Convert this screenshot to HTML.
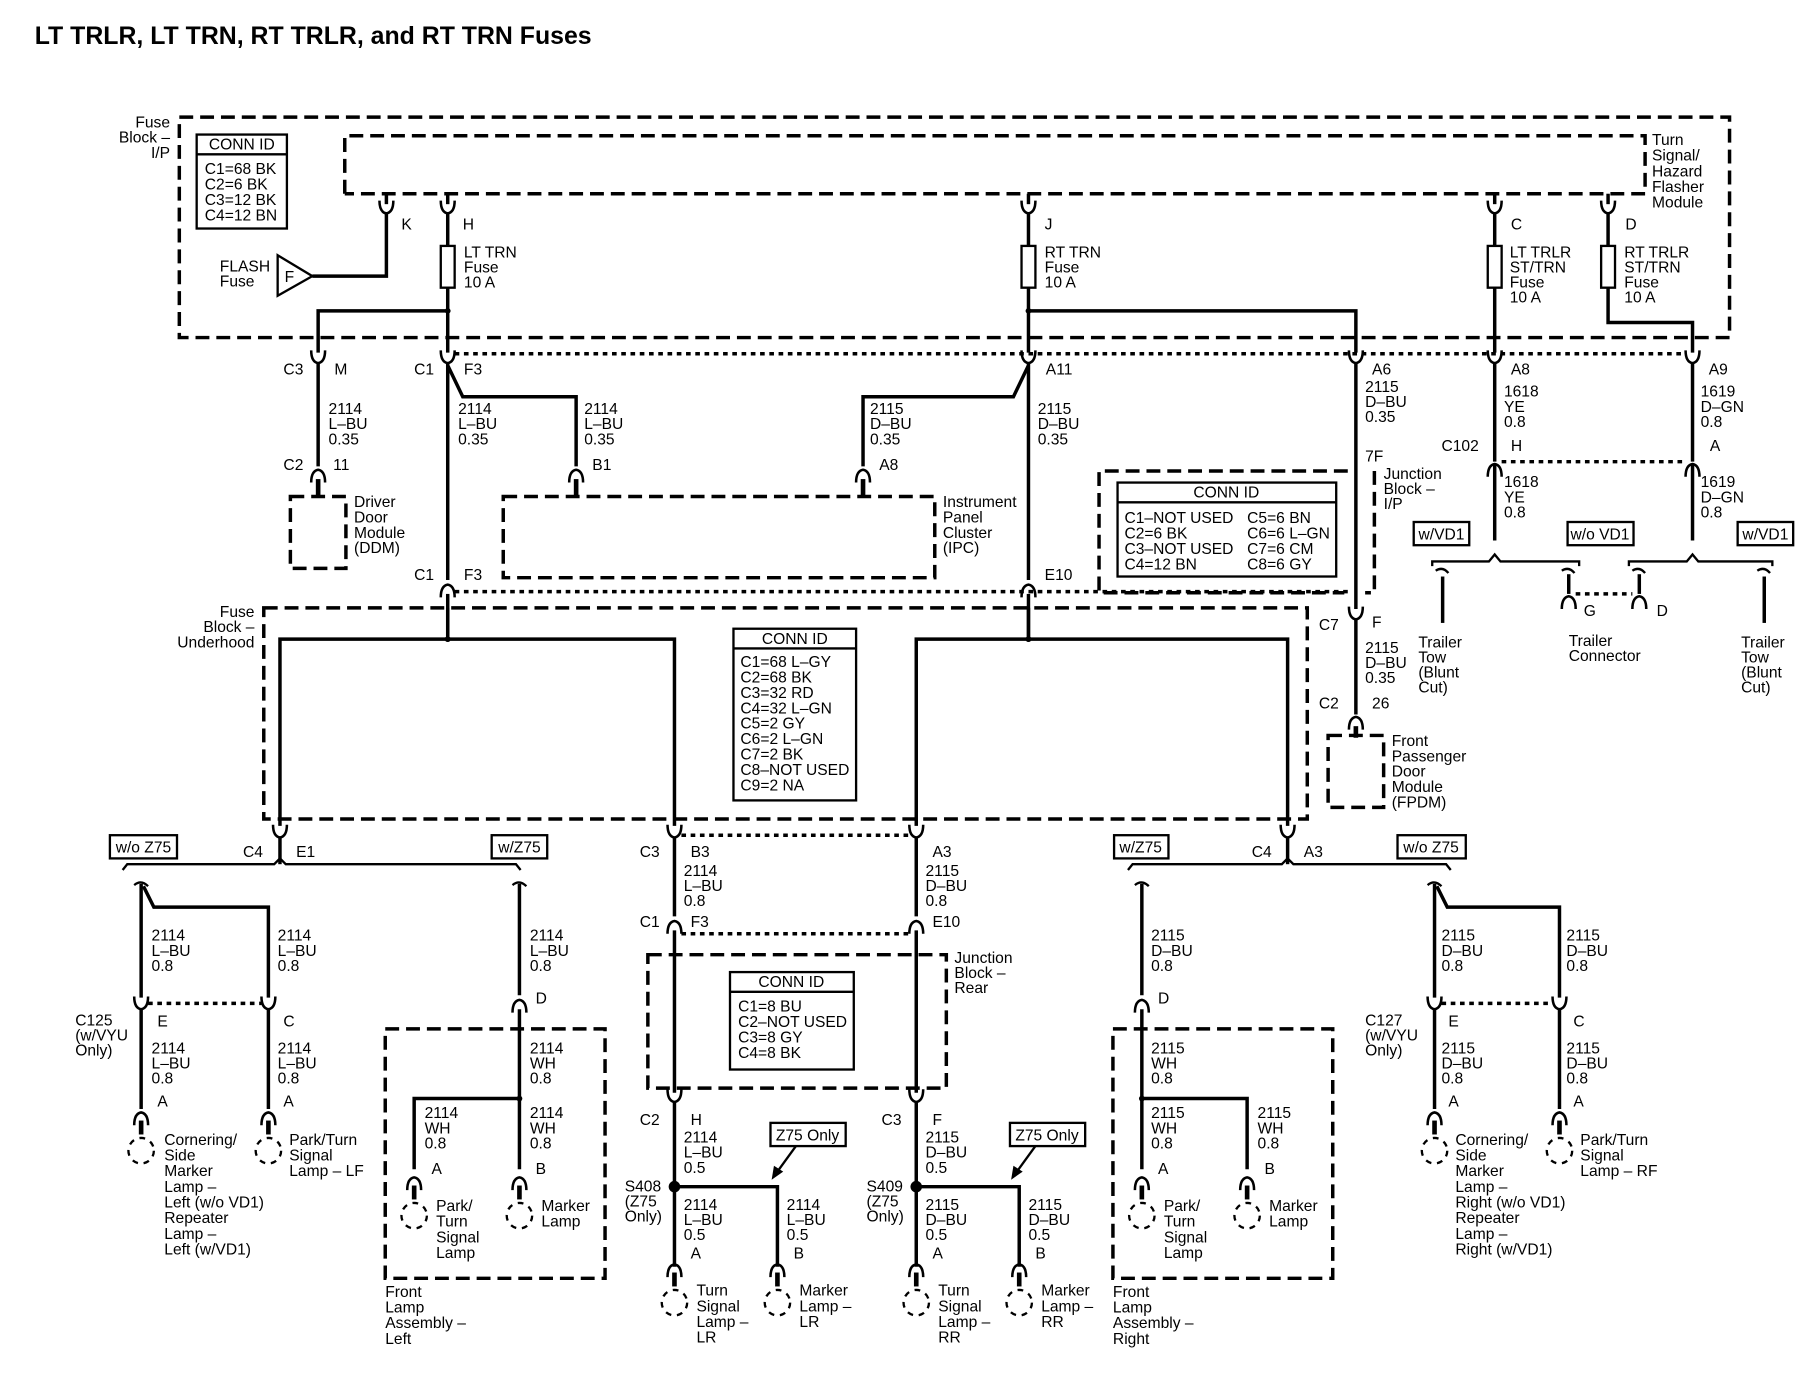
<!DOCTYPE html>
<html><head><meta charset="utf-8"><style>
html,body{margin:0;padding:0;background:#fff}
svg{display:block}
text{font-family:"Liberation Sans Narrow","Liberation Sans",sans-serif;font-size:13.5px;fill:#000}
.w{stroke:#000;stroke-width:3;fill:none}
.n{stroke:#000;stroke-width:2;fill:none}
.d{stroke:#000;stroke-width:3;fill:none;stroke-dasharray:12 6}
.o{stroke:#000;stroke-width:3;fill:none;stroke-dasharray:4 4}
.b{stroke:#000;stroke-width:2;fill:#fff}
</style></head><body>
<svg width="1814" height="1392" viewBox="0 0 1568 1200" preserveAspectRatio="none" xmlns="http://www.w3.org/2000/svg">
<defs>
<path id="u" d="M-6 -7 Q-6 3 0 4 Q6 3 6 -7" stroke="#000" stroke-width="2.2" fill="none"/>
<path id="a" d="M-6 7 Q-6 -3 0 -4 Q6 -3 6 7" stroke="#000" stroke-width="2.2" fill="none"/>
<g id="lamp"><path d="M-6 -20 Q-6 -30 0 -31 Q6 -30 6 -20" stroke="#000" stroke-width="2.2" fill="none"/><line x1="0" y1="-24" x2="0" y2="-12" stroke="#000" stroke-width="4"/><circle cx="0" cy="2" r="11" stroke="#000" stroke-width="2" fill="none" stroke-dasharray="5 5"/></g>
</defs>
<text x="30" y="38" style="font-family:'Liberation Sans',sans-serif;font-size:21.5px;font-weight:bold">LT TRLR, LT TRN, RT TRLR, and RT TRN Fuses</text>

<!-- Fuse Block I/P -->
<rect x="155" y="101" width="1340" height="190" class="d"/>
<text x="147" y="110" text-anchor="end">Fuse<tspan x="147" dy="13">Block –</tspan><tspan x="147" dy="13">I/P</tspan></text>
<path d="M298 167 V117 H1422 V167 H298" class="d"/>
<text x="1428" y="125">Turn<tspan x="1428" dy="13.5">Signal/</tspan><tspan x="1428" dy="13.5">Hazard</tspan><tspan x="1428" dy="13.5">Flasher</tspan><tspan x="1428" dy="13.5">Module</tspan></text>
<rect x="170" y="116" width="78" height="81" class="b"/><line x1="170" y1="133" x2="248" y2="133" class="n"/>
<text x="209" y="129" text-anchor="middle">CONN ID</text>
<text x="177" y="150">C1=68 BK<tspan x="177" dy="13.3">C2=6 BK</tspan><tspan x="177" dy="13.3">C3=12 BK</tspan><tspan x="177" dy="13.3">C4=12 BN</tspan></text>

<!-- module pins -->
<g class="w"><line x1="334" y1="167" x2="334" y2="176"/><line x1="387" y1="167" x2="387" y2="176"/><line x1="889" y1="167" x2="889" y2="176"/><line x1="1292" y1="167" x2="1292" y2="176"/><line x1="1390" y1="167" x2="1390" y2="176"/></g>
<use href="#u" x="334" y="180"/><use href="#u" x="387" y="180"/><use href="#u" x="889" y="180"/><use href="#u" x="1292" y="180"/><use href="#u" x="1390" y="180"/>
<text x="347" y="198">K</text><text x="400" y="198">H</text><text x="903" y="198">J</text><text x="1306" y="198">C</text><text x="1405" y="198">D</text>
<path d="M334 184 V238 H270" class="w"/>
<path d="M240 220 L270 238 L240 255 Z" class="n"/><text x="246" y="243">F</text>
<text x="190" y="234">FLASH<tspan x="190" dy="13">Fuse</tspan></text>
<g class="w">
<line x1="387" y1="184" x2="387" y2="304"/>
<line x1="889" y1="184" x2="889" y2="304"/>
<line x1="1292" y1="184" x2="1292" y2="304"/>
<path d="M1390 184 V278 H1463 V304"/>
<path d="M387 268 H275 V304"/>
<path d="M889 268 H1172 V304"/>
</g>
<g class="b"><rect x="381" y="212" width="12" height="36"/><rect x="883" y="212" width="12" height="36"/><rect x="1286" y="212" width="12" height="36"/><rect x="1384" y="212" width="12" height="36"/></g>
<text x="401" y="222">LT TRN<tspan x="401" dy="13">Fuse</tspan><tspan x="401" dy="13">10 A</tspan></text>
<text x="903" y="222">RT TRN<tspan x="903" dy="13">Fuse</tspan><tspan x="903" dy="13">10 A</tspan></text>
<text x="1305" y="222">LT TRLR<tspan x="1305" dy="13">ST/TRN</tspan><tspan x="1305" dy="13">Fuse</tspan><tspan x="1305" dy="13">10 A</tspan></text>
<text x="1404" y="222">RT TRLR<tspan x="1404" dy="13">ST/TRN</tspan><tspan x="1404" dy="13">Fuse</tspan><tspan x="1404" dy="13">10 A</tspan></text>
<circle cx="387" cy="268" r="2.5"/><circle cx="889" cy="268" r="2.5"/>

<!-- row y 305 -->
<line x1="393" y1="305" x2="1457" y2="305" class="o"/>
<use href="#u" x="275" y="309"/><use href="#u" x="387" y="309"/><use href="#u" x="889" y="309"/><use href="#u" x="1172" y="309"/><use href="#u" x="1292" y="309"/><use href="#u" x="1463" y="309"/>
<text x="245" y="323">C3</text><text x="289" y="323">M</text><text x="358" y="323">C1</text><text x="401" y="323">F3</text><text x="904" y="323">A11</text><text x="1186" y="323">A6</text><text x="1306" y="323">A8</text><text x="1477" y="323">A9</text>
<g class="w">
<line x1="275" y1="313" x2="275" y2="402"/>
<line x1="387" y1="313" x2="387" y2="500"/>
<path d="M387 315 L400 342 H498 V402"/>
<path d="M889 315 L876 342 H746 V402"/>
<line x1="889" y1="313" x2="889" y2="500"/>
<line x1="1172" y1="313" x2="1172" y2="525"/>
<line x1="1292" y1="313" x2="1292" y2="398"/>
<line x1="1463" y1="313" x2="1463" y2="398"/>
</g>
<text x="284" y="357">2114<tspan x="284" dy="13">L–BU</tspan><tspan x="284" dy="13">0.35</tspan></text>
<text x="396" y="357">2114<tspan x="396" dy="13">L–BU</tspan><tspan x="396" dy="13">0.35</tspan></text>
<text x="505" y="357">2114<tspan x="505" dy="13">L–BU</tspan><tspan x="505" dy="13">0.35</tspan></text>
<text x="752" y="357">2115<tspan x="752" dy="13">D–BU</tspan><tspan x="752" dy="13">0.35</tspan></text>
<text x="897" y="357">2115<tspan x="897" dy="13">D–BU</tspan><tspan x="897" dy="13">0.35</tspan></text>
<text x="1180" y="338">2115<tspan x="1180" dy="13">D–BU</tspan><tspan x="1180" dy="13">0.35</tspan></text>
<text x="1180" y="398">7F</text>
<text x="1300" y="342">1618<tspan x="1300" dy="13">YE</tspan><tspan x="1300" dy="13">0.8</tspan></text>
<text x="1470" y="342">1619<tspan x="1470" dy="13">D–GN</tspan><tspan x="1470" dy="13">0.8</tspan></text>

<!-- DDM -->
<use href="#a" x="275" y="409"/><line x1="275" y1="413" x2="275" y2="428" stroke="#000" stroke-width="4"/>
<text x="245" y="405">C2</text><text x="288" y="405">11</text>
<rect x="251" y="428" width="48" height="62" class="d"/>
<text x="306" y="437">Driver<tspan x="306" dy="13.3">Door</tspan><tspan x="306" dy="13.3">Module</tspan><tspan x="306" dy="13.3">(DDM)</tspan></text>
<!-- IPC -->
<use href="#a" x="498" y="409"/><line x1="498" y1="413" x2="498" y2="428" stroke="#000" stroke-width="4"/>
<use href="#a" x="746" y="409"/><line x1="746" y1="413" x2="746" y2="428" stroke="#000" stroke-width="4"/>
<text x="512" y="405">B1</text><text x="760" y="405">A8</text>
<rect x="435" y="428" width="373" height="70" class="d"/>
<text x="815" y="437">Instrument<tspan x="815" dy="13.3">Panel</tspan><tspan x="815" dy="13.3">Cluster</tspan><tspan x="815" dy="13.3">(IPC)</tspan></text>

<!-- C1 F3 / E10 lower -->
<line x1="393" y1="510" x2="1168" y2="510" class="o"/>
<use href="#a" x="387" y="508"/><use href="#a" x="889" y="508"/>
<text x="358" y="500">C1</text><text x="401" y="500">F3</text><text x="903" y="500">E10</text>
<g class="w"><line x1="387" y1="512" x2="387" y2="551"/><line x1="889" y1="512" x2="889" y2="551"/></g>

<!-- Junction block I/P -->
<path d="M1165 406 H950 V511 H1162 M1188 406 V511 H1180" class="d"/>
<text x="1196" y="413">Junction<tspan x="1196" dy="13">Block –</tspan><tspan x="1196" dy="13">I/P</tspan></text>
<rect x="966" y="416" width="189" height="81" class="b"/><line x1="966" y1="433" x2="1155" y2="433" class="n"/>
<text x="1060" y="429" text-anchor="middle">CONN ID</text>
<text x="972" y="451">C1–NOT USED<tspan x="972" dy="13.3">C2=6 BK</tspan><tspan x="972" dy="13.3">C3–NOT USED</tspan><tspan x="972" dy="13.3">C4=12 BN</tspan></text>
<text x="1078" y="451">C5=6 BN<tspan x="1078" dy="13.3">C6=6 L–GN</tspan><tspan x="1078" dy="13.3">C7=6 CM</tspan><tspan x="1078" dy="13.3">C8=6 GY</tspan></text>
<use href="#u" x="1172" y="530"/>
<text x="1140" y="543">C7</text><text x="1186" y="541">F</text>
<line x1="1172" y1="534" x2="1172" y2="616" class="w"/>
<text x="1180" y="563">2115<tspan x="1180" dy="13">D–BU</tspan><tspan x="1180" dy="13">0.35</tspan></text>
<text x="1140" y="611">C2</text><text x="1186" y="611">26</text>
<use href="#a" x="1172" y="622"/><line x1="1172" y1="626" x2="1172" y2="636" stroke="#000" stroke-width="4"/>
<rect x="1148" y="634" width="48" height="62" class="d"/>
<text x="1203" y="643">Front<tspan x="1203" dy="13.3">Passenger</tspan><tspan x="1203" dy="13.3">Door</tspan><tspan x="1203" dy="13.3">Module</tspan><tspan x="1203" dy="13.3">(FPDM)</tspan></text>

<!-- C102 -->
<text x="1246" y="389">C102</text><text x="1306" y="389">H</text><text x="1478" y="389">A</text>
<line x1="1298" y1="398" x2="1457" y2="398" class="o"/>
<use href="#a" x="1292" y="404"/><use href="#a" x="1463" y="404"/>
<g class="w"><line x1="1292" y1="400" x2="1292" y2="466"/><line x1="1463" y1="400" x2="1463" y2="466"/></g>
<text x="1300" y="420">1618<tspan x="1300" dy="13">YE</tspan><tspan x="1300" dy="13">0.8</tspan></text>
<text x="1470" y="420">1619<tspan x="1470" dy="13">D–GN</tspan><tspan x="1470" dy="13">0.8</tspan></text>
<g class="b"><rect x="1222" y="450" width="48" height="20"/><rect x="1355" y="450" width="57" height="20"/><rect x="1502" y="450" width="48" height="20"/></g>
<text x="1246" y="465" text-anchor="middle">w/VD1</text><text x="1383" y="465" text-anchor="middle">w/o VD1</text><text x="1526" y="465" text-anchor="middle">w/VD1</text>
<g class="n">
<path d="M1238 488 V484 H1287 L1292 478 L1297 484 H1365 V488"/>
<path d="M1408 488 V484 H1458 L1463 478 L1468 484 H1532 V488"/>
<path d="M1241 492 Q1247 488 1252 494"/><path d="M1519 492 Q1525 488 1530 494"/>
<path d="M1350 492 Q1356 488 1361 494"/><path d="M1411 492 Q1417 488 1422 494"/>
</g>
<g class="w"><line x1="1247" y1="497" x2="1247" y2="537"/><line x1="1525" y1="497" x2="1525" y2="537"/><line x1="1356" y1="495" x2="1356" y2="512"/><line x1="1417" y1="495" x2="1417" y2="512"/></g>
<use href="#a" x="1356" y="518"/><use href="#a" x="1417" y="518"/>
<line x1="1362" y1="512" x2="1411" y2="512" class="o"/>
<text x="1369" y="531">G</text><text x="1432" y="531">D</text>
<text x="1226" y="558">Trailer<tspan x="1226" dy="13">Tow</tspan><tspan x="1226" dy="13">(Blunt</tspan><tspan x="1226" dy="13">Cut)</tspan></text>
<text x="1356" y="557">Trailer<tspan x="1356" dy="13">Connector</tspan></text>
<text x="1505" y="558">Trailer<tspan x="1505" dy="13">Tow</tspan><tspan x="1505" dy="13">(Blunt</tspan><tspan x="1505" dy="13">Cut)</tspan></text>

<!-- Fuse block underhood -->
<rect x="228" y="524" width="902" height="182" class="d"/>
<text x="220" y="532" text-anchor="end">Fuse<tspan x="220" dy="13">Block –</tspan><tspan x="220" dy="13">Underhood</tspan></text>
<g class="w">
<path d="M242 712 V551 H583 V712"/>
<path d="M792 712 V551 H1113 V712"/>
<line x1="387" y1="551" x2="387" y2="524"/><line x1="889" y1="551" x2="889" y2="524"/>
</g>
<circle cx="387" cy="551" r="2.5"/><circle cx="889" cy="551" r="2.5"/>
<rect x="634" y="542" width="106" height="148" class="b"/><line x1="634" y1="559" x2="740" y2="559" class="n"/>
<text x="687" y="555" text-anchor="middle">CONN ID</text>
<text x="640" y="575">C1=68 L–GY<tspan x="640" dy="13.3">C2=68 BK</tspan><tspan x="640" dy="13.3">C3=32 RD</tspan><tspan x="640" dy="13.3">C4=32 L–GN</tspan><tspan x="640" dy="13.3">C5=2 GY</tspan><tspan x="640" dy="13.3">C6=2 L–GN</tspan><tspan x="640" dy="13.3">C7=2 BK</tspan><tspan x="640" dy="13.3">C8–NOT USED</tspan><tspan x="640" dy="13.3">C9=2 NA</tspan></text>

<!-- row 716 -->
<use href="#u" x="242" y="718"/><use href="#u" x="583" y="718"/><use href="#u" x="792" y="718"/><use href="#u" x="1113" y="718"/>
<line x1="589" y1="720" x2="786" y2="720" class="o"/>
<text x="210" y="739">C4</text><text x="256" y="739">E1</text><text x="553" y="739">C3</text><text x="597" y="739">B3</text><text x="806" y="739">A3</text><text x="1082" y="739">C4</text><text x="1127" y="739">A3</text>
<g class="b"><rect x="95" y="720" width="58" height="20"/><rect x="425" y="720" width="48" height="20"/><rect x="963" y="720" width="47" height="20"/><rect x="1208" y="720" width="59" height="20"/></g>
<text x="124" y="735" text-anchor="middle">w/o Z75</text><text x="449" y="735" text-anchor="middle">w/Z75</text><text x="986" y="735" text-anchor="middle">w/Z75</text><text x="1237" y="735" text-anchor="middle">w/o Z75</text>

<!-- left bracket -->
<g class="n">
<path d="M106 750 L110 745 H237 L242 740 L247 745 H446 L450 750"/>
<path d="M975 750 L979 745 H1108 L1113 740 L1118 745 H1250 L1254 750"/>
<path d="M116 763 Q122 758 128 764"/><path d="M443 763 Q449 758 455 764"/>
<path d="M981 763 Q987 758 993 764"/><path d="M1234 763 Q1240 758 1246 764"/>
</g>
<g class="w">
<line x1="122" y1="762" x2="122" y2="860"/>
<path d="M124 764 L133 782 H232 V860"/>
<line x1="449" y1="762" x2="449" y2="858"/>
<line x1="583" y1="722" x2="583" y2="790"/>
<line x1="792" y1="722" x2="792" y2="790"/>
<line x1="1113" y1="722" x2="1113" y2="745"/>
<line x1="242" y1="722" x2="242" y2="745"/>
<line x1="987" y1="762" x2="987" y2="858"/>
<line x1="1240" y1="762" x2="1240" y2="860"/>
<path d="M1242 764 L1251 782 H1348 V860"/>
</g>
<text x="131" y="811">2114<tspan x="131" dy="13">L–BU</tspan><tspan x="131" dy="13">0.8</tspan></text>
<text x="240" y="811">2114<tspan x="240" dy="13">L–BU</tspan><tspan x="240" dy="13">0.8</tspan></text>
<text x="458" y="811">2114<tspan x="458" dy="13">L–BU</tspan><tspan x="458" dy="13">0.8</tspan></text>
<text x="591" y="755">2114<tspan x="591" dy="13">L–BU</tspan><tspan x="591" dy="13">0.8</tspan></text>
<text x="800" y="755">2115<tspan x="800" dy="13">D–BU</tspan><tspan x="800" dy="13">0.8</tspan></text>
<text x="995" y="811">2115<tspan x="995" dy="13">D–BU</tspan><tspan x="995" dy="13">0.8</tspan></text>
<text x="1246" y="811">2115<tspan x="1246" dy="13">D–BU</tspan><tspan x="1246" dy="13">0.8</tspan></text>
<text x="1354" y="811">2115<tspan x="1354" dy="13">D–BU</tspan><tspan x="1354" dy="13">0.8</tspan></text>

<!-- C125 -->
<line x1="128" y1="865" x2="226" y2="865" class="o"/>
<use href="#u" x="122" y="866"/><use href="#u" x="232" y="866"/>
<text x="136" y="885">E</text><text x="245" y="885">C</text>
<text x="65" y="884">C125<tspan x="65" dy="13">(w/VYU</tspan><tspan x="65" dy="13">Only)</tspan></text>
<g class="w"><line x1="122" y1="870" x2="122" y2="956"/><line x1="232" y1="870" x2="232" y2="956"/></g>
<text x="131" y="908">2114<tspan x="131" dy="13">L–BU</tspan><tspan x="131" dy="13">0.8</tspan></text>
<text x="240" y="908">2114<tspan x="240" dy="13">L–BU</tspan><tspan x="240" dy="13">0.8</tspan></text>
<text x="136" y="954">A</text><text x="245" y="954">A</text>
<use href="#lamp" x="122" y="990"/><use href="#lamp" x="232" y="990"/>
<text x="142" y="987">Cornering/<tspan x="142" dy="13.5">Side</tspan><tspan x="142" dy="13.5">Marker</tspan><tspan x="142" dy="13.5">Lamp –</tspan><tspan x="142" dy="13.5">Left (w/o VD1)</tspan><tspan x="142" dy="13.5">Repeater</tspan><tspan x="142" dy="13.5">Lamp –</tspan><tspan x="142" dy="13.5">Left (w/VD1)</tspan></text>
<text x="250" y="987">Park/Turn<tspan x="250" dy="13.5">Signal</tspan><tspan x="250" dy="13.5">Lamp – LF</tspan></text>

<!-- Front lamp assembly left -->
<use href="#a" x="449" y="866"/><text x="463" y="865">D</text>
<rect x="333" y="887" width="190" height="215" class="d"/>
<g class="w"><line x1="449" y1="870" x2="449" y2="1008"/><path d="M449 947 H358 V1008"/></g>
<circle cx="449" cy="947" r="2.5"/>
<text x="458" y="908">2114<tspan x="458" dy="13">WH</tspan><tspan x="458" dy="13">0.8</tspan></text>
<text x="367" y="964">2114<tspan x="367" dy="13">WH</tspan><tspan x="367" dy="13">0.8</tspan></text>
<text x="458" y="964">2114<tspan x="458" dy="13">WH</tspan><tspan x="458" dy="13">0.8</tspan></text>
<text x="373" y="1012">A</text><text x="463" y="1012">B</text>
<use href="#lamp" x="358" y="1046"/><use href="#lamp" x="449" y="1046"/>
<text x="377" y="1044">Park/<tspan x="377" dy="13.5">Turn</tspan><tspan x="377" dy="13.5">Signal</tspan><tspan x="377" dy="13.5">Lamp</tspan></text>
<text x="468" y="1044">Marker<tspan x="468" dy="13.5">Lamp</tspan></text>
<text x="333" y="1118">Front<tspan x="333" dy="13.5">Lamp</tspan><tspan x="333" dy="13.5">Assembly –</tspan><tspan x="333" dy="13.5">Left</tspan></text>

<!-- Junction block rear -->
<text x="553" y="799">C1</text><text x="597" y="799">F3</text><text x="806" y="799">E10</text>
<line x1="589" y1="805" x2="786" y2="805" class="o"/>
<use href="#a" x="583" y="798"/><use href="#a" x="792" y="798"/>
<rect x="560" y="823" width="258" height="115" class="d"/>
<text x="825" y="830">Junction<tspan x="825" dy="13">Block –</tspan><tspan x="825" dy="13">Rear</tspan></text>
<rect x="631" y="838" width="107" height="84" class="b"/><line x1="631" y1="855" x2="738" y2="855" class="n"/>
<text x="684" y="851" text-anchor="middle">CONN ID</text>
<text x="638" y="872">C1=8 BU<tspan x="638" dy="13.3">C2–NOT USED</tspan><tspan x="638" dy="13.3">C3=8 GY</tspan><tspan x="638" dy="13.3">C4=8 BK</tspan></text>
<g class="w"><line x1="583" y1="802" x2="583" y2="942"/><line x1="792" y1="802" x2="792" y2="942"/></g>
<use href="#u" x="583" y="946"/><use href="#u" x="792" y="946"/>
<text x="553" y="970">C2</text><text x="597" y="970">H</text><text x="762" y="970">C3</text><text x="806" y="970">F</text>
<g class="w"><line x1="583" y1="950" x2="583" y2="1092"/><path d="M583 1023 H672 V1092"/><line x1="792" y1="950" x2="792" y2="1092"/><path d="M792 1023 H881 V1092"/></g>
<circle cx="583" cy="1023" r="5"/><circle cx="792" cy="1023" r="5"/>
<text x="591" y="985">2114<tspan x="591" dy="13">L–BU</tspan><tspan x="591" dy="13">0.5</tspan></text>
<text x="800" y="985">2115<tspan x="800" dy="13">D–BU</tspan><tspan x="800" dy="13">0.5</tspan></text>
<g class="b"><rect x="666" y="968" width="65" height="20"/><rect x="873" y="968" width="65" height="20"/></g>
<text x="698" y="983" text-anchor="middle">Z75 Only</text><text x="905" y="983" text-anchor="middle">Z75 Only</text>
<g class="n"><line x1="688" y1="988" x2="672" y2="1010"/><line x1="895" y1="988" x2="879" y2="1010"/></g>
<path d="M667 1017 L669 1005 L677 1010 Z"/><path d="M874 1017 L876 1005 L884 1010 Z"/>
<text x="540" y="1027">S408<tspan x="540" dy="13">(Z75</tspan><tspan x="540" dy="13">Only)</tspan></text>
<text x="749" y="1027">S409<tspan x="749" dy="13">(Z75</tspan><tspan x="749" dy="13">Only)</tspan></text>
<text x="591" y="1043">2114<tspan x="591" dy="13">L–BU</tspan><tspan x="591" dy="13">0.5</tspan></text>
<text x="680" y="1043">2114<tspan x="680" dy="13">L–BU</tspan><tspan x="680" dy="13">0.5</tspan></text>
<text x="800" y="1043">2115<tspan x="800" dy="13">D–BU</tspan><tspan x="800" dy="13">0.5</tspan></text>
<text x="889" y="1043">2115<tspan x="889" dy="13">D–BU</tspan><tspan x="889" dy="13">0.5</tspan></text>
<text x="597" y="1085">A</text><text x="686" y="1085">B</text><text x="806" y="1085">A</text><text x="895" y="1085">B</text>
<use href="#lamp" x="583" y="1121"/><use href="#lamp" x="672" y="1121"/><use href="#lamp" x="792" y="1121"/><use href="#lamp" x="881" y="1121"/>
<text x="602" y="1117">Turn<tspan x="602" dy="13.5">Signal</tspan><tspan x="602" dy="13.5">Lamp –</tspan><tspan x="602" dy="13.5">LR</tspan></text>
<text x="691" y="1117">Marker<tspan x="691" dy="13.5">Lamp –</tspan><tspan x="691" dy="13.5">LR</tspan></text>
<text x="811" y="1117">Turn<tspan x="811" dy="13.5">Signal</tspan><tspan x="811" dy="13.5">Lamp –</tspan><tspan x="811" dy="13.5">RR</tspan></text>
<text x="900" y="1117">Marker<tspan x="900" dy="13.5">Lamp –</tspan><tspan x="900" dy="13.5">RR</tspan></text>

<!-- Front lamp assembly right -->
<use href="#a" x="987" y="866"/><text x="1001" y="865">D</text>
<rect x="962" y="887" width="190" height="215" class="d"/>
<g class="w"><line x1="987" y1="870" x2="987" y2="1008"/><path d="M987 947 H1078 V1008"/></g>
<circle cx="987" cy="947" r="2.5"/>
<text x="995" y="908">2115<tspan x="995" dy="13">WH</tspan><tspan x="995" dy="13">0.8</tspan></text>
<text x="995" y="964">2115<tspan x="995" dy="13">WH</tspan><tspan x="995" dy="13">0.8</tspan></text>
<text x="1087" y="964">2115<tspan x="1087" dy="13">WH</tspan><tspan x="1087" dy="13">0.8</tspan></text>
<text x="1001" y="1012">A</text><text x="1093" y="1012">B</text>
<use href="#lamp" x="987" y="1046"/><use href="#lamp" x="1078" y="1046"/>
<text x="1006" y="1044">Park/<tspan x="1006" dy="13.5">Turn</tspan><tspan x="1006" dy="13.5">Signal</tspan><tspan x="1006" dy="13.5">Lamp</tspan></text>
<text x="1097" y="1044">Marker<tspan x="1097" dy="13.5">Lamp</tspan></text>
<text x="962" y="1118">Front<tspan x="962" dy="13.5">Lamp</tspan><tspan x="962" dy="13.5">Assembly –</tspan><tspan x="962" dy="13.5">Right</tspan></text>

<!-- C127 -->
<line x1="1246" y1="865" x2="1342" y2="865" class="o"/>
<use href="#u" x="1240" y="866"/><use href="#u" x="1348" y="866"/>
<text x="1252" y="885">E</text><text x="1360" y="885">C</text>
<text x="1180" y="884">C127<tspan x="1180" dy="13">(w/VYU</tspan><tspan x="1180" dy="13">Only)</tspan></text>
<g class="w"><line x1="1240" y1="870" x2="1240" y2="956"/><line x1="1348" y1="870" x2="1348" y2="956"/></g>
<text x="1246" y="908">2115<tspan x="1246" dy="13">D–BU</tspan><tspan x="1246" dy="13">0.8</tspan></text>
<text x="1354" y="908">2115<tspan x="1354" dy="13">D–BU</tspan><tspan x="1354" dy="13">0.8</tspan></text>
<text x="1252" y="954">A</text><text x="1360" y="954">A</text>
<use href="#lamp" x="1240" y="990"/><use href="#lamp" x="1348" y="990"/>
<text x="1258" y="987">Cornering/<tspan x="1258" dy="13.5">Side</tspan><tspan x="1258" dy="13.5">Marker</tspan><tspan x="1258" dy="13.5">Lamp –</tspan><tspan x="1258" dy="13.5">Right (w/o VD1)</tspan><tspan x="1258" dy="13.5">Repeater</tspan><tspan x="1258" dy="13.5">Lamp –</tspan><tspan x="1258" dy="13.5">Right (w/VD1)</tspan></text>
<text x="1366" y="987">Park/Turn<tspan x="1366" dy="13.5">Signal</tspan><tspan x="1366" dy="13.5">Lamp – RF</tspan></text>
</svg>
</body></html>
